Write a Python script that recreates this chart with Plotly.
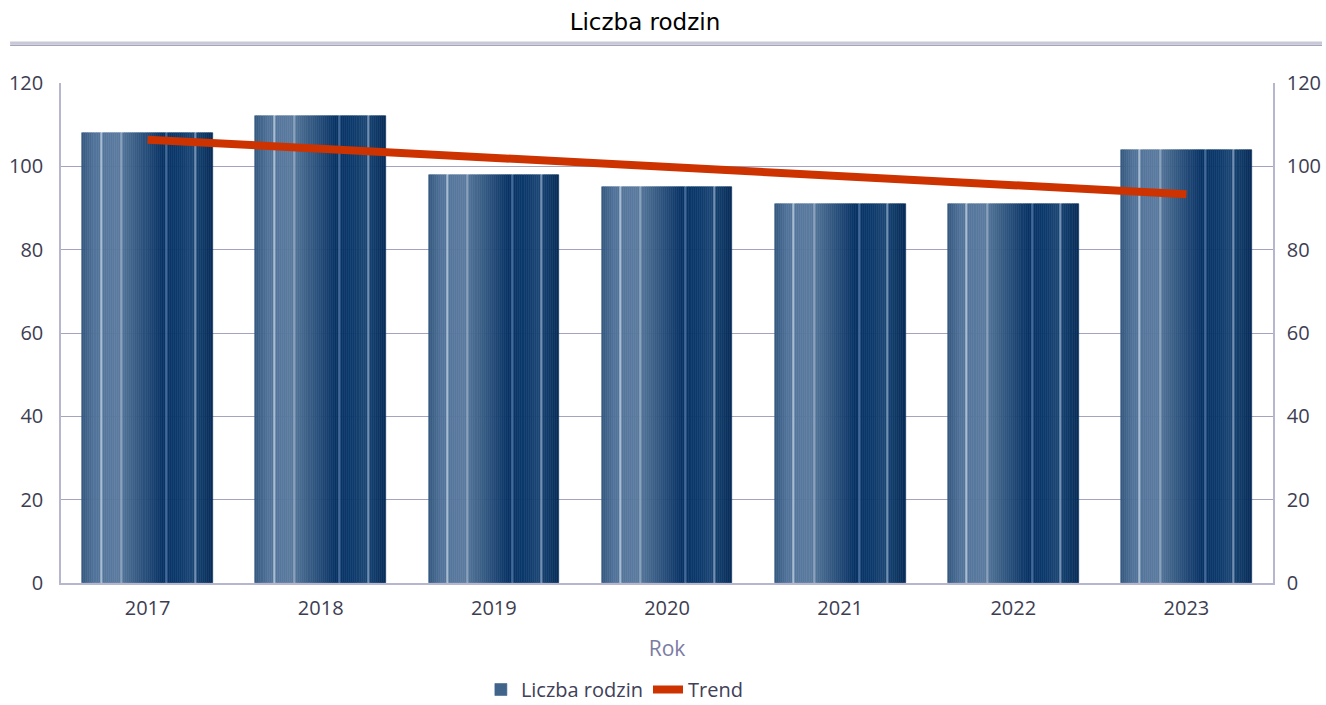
import plotly.graph_objects as go

# ---- data ----
years = ["2017", "2018", "2019", "2020", "2021", "2022", "2023"]
families = [108, 112, 98, 95, 91, 91, 104]
trend = [106.4, 104.2, 102.0, 99.9, 97.7, 95.5, 93.3]
y_ticks = [0, 20, 40, 60, 80, 100, 120]

title_text = "Liczba rodzin"
series_name = "Liczba rodzin"
trend_name = "Trend"
x_title = "Rok"

# ---- styling helpers (bar shading) ----
def hex2rgb(h):
    h = h.lstrip("#")
    return tuple(int(h[i:i + 2], 16) for i in (0, 2, 4))

def rgb2hex(c):
    return "#%02x%02x%02x" % tuple(int(round(v)) for v in c)

base_stops = [
    (0.00, "#34587f"), (0.10, "#52739a"), (0.28, "#5b7b9f"), (0.36, "#46698f"),
    (0.62, "#083365"), (0.75, "#0d3a6c"), (0.84, "#1d4775"), (0.90, "#133e6c"),
    (1.00, "#072c58"),
]
stripe_stops = [(0.15, "#a9bdd2"), (0.30, "#8aa2bd"), (0.65, "#43699a"), (0.86, "#7290b3")]

def base_color(t):
    for (t0, c0), (t1, c1) in zip(base_stops[:-1], base_stops[1:]):
        if t0 <= t <= t1:
            a = (t - t0) / (t1 - t0)
            r0, r1 = hex2rgb(c0), hex2rgb(c1)
            return rgb2hex([r0[k] + (r1[k] - r0[k]) * a for k in range(3)])
    return base_stops[-1][1]

N = 64
BAR_W = 0.755
strip_colors = [base_color((i + 0.5) / N) for i in range(N)]
for s, c in stripe_stops:
    strip_colors[min(N - 1, int(s * N))] = c

fig = go.Figure()
legend_strip = 24
for i in range(N):
    c = strip_colors[i]
    fig.add_trace(go.Bar(
        x=years, y=families,
        width=BAR_W / N, offset=-BAR_W / 2 + i * BAR_W / N,
        marker=dict(color=c, line=dict(color=c, width=0.6)),
        name=series_name, legendgroup="bars",
        showlegend=(i == legend_strip),
        hoverinfo="skip" if i != legend_strip else None,
    ))

fig.add_trace(go.Scatter(
    x=years, y=trend, mode="lines", name=trend_name,
    line=dict(color="#cc3300", width=8),
))

# invisible trace for the right-hand axis
fig.add_trace(go.Scatter(x=years, y=families, yaxis="y2", mode="markers",
                         marker=dict(opacity=0), showlegend=False, hoverinfo="skip"))

tick_font = dict(family="Open Sans, Lato, sans-serif", size=20, color="#3d3d52")
axis_col = "#b6b6ce"
grid_col = "#a4a4c0"

fig.update_layout(
    width=1326, height=705,
    margin=dict(l=61, r=53, t=83, b=122, autoexpand=False),
    paper_bgcolor="white", plot_bgcolor="white",
    barmode="overlay", bargap=0,
    title=dict(text=title_text, x=0.4864, xanchor="center", y=0.9688, yanchor="middle",
               font=dict(family="DejaVu Sans, Verdana, sans-serif", size=23, color="#000000")),
    xaxis=dict(
        type="category", showgrid=False, showline=True, linecolor=axis_col, linewidth=1.5,
        ticks="", tickfont=tick_font, ticklabelstandoff=6, automargin=False,
        title=dict(text=x_title, standoff=22,
                   font=dict(family="Open Sans, Lato, sans-serif", size=21, color="#7b7ba3")),
    ),
    yaxis=dict(
        range=[0, 120], tickvals=y_ticks, showgrid=True, gridcolor=grid_col, gridwidth=1,
        showline=True, linecolor=axis_col, linewidth=1.5, ticks="", zeroline=False,
        tickfont=tick_font, ticklabelstandoff=12, automargin=False,
    ),
    yaxis2=dict(
        range=[0, 120], tickvals=y_ticks, overlaying="y", side="right", showgrid=False,
        showline=True, linecolor=axis_col, linewidth=1.5, ticks="", zeroline=False,
        tickfont=tick_font, ticklabelstandoff=8, automargin=False,
    ),
    legend=dict(orientation="h", x=0.457, xanchor="center", y=-0.213, yanchor="middle",
                font=dict(family="Open Sans, Lato, sans-serif", size=20, color="#404058"),
                itemwidth=30, traceorder="normal"),
    shapes=[
        dict(type="line", xref="paper", yref="paper", x0=-0.042, x1=1.0404,
             y0=1.0806, y1=1.0806, line=dict(color="#c8c8d6", width=2.5)),
        dict(type="line", xref="paper", yref="paper", x0=-0.042, x1=1.0404,
             y0=1.0755, y1=1.0755, line=dict(color="#a4a4bc", width=1.5)),
    ],
)

fig.write_html(
    "out.html",
    config={"displayModeBar": False},
    post_script="document.body.style.margin='0';document.body.style.overflow='hidden';",
)
